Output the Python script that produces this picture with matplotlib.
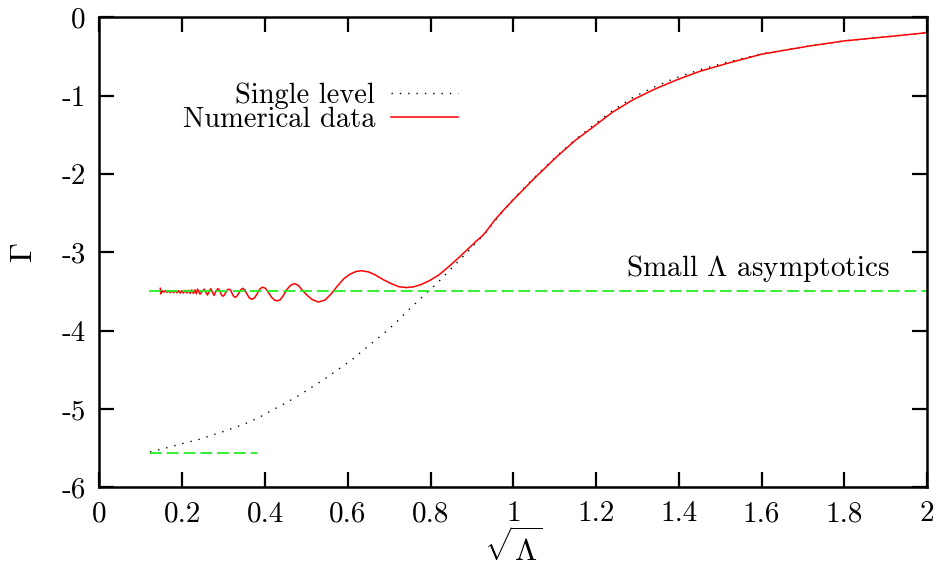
import matplotlib
matplotlib.use("Agg")
import matplotlib.pyplot as plt

plt.rcParams['font.family'] = ['cmr10', 'DejaVu Serif']
plt.rcParams['mathtext.fontset'] = 'cm'
plt.rcParams['axes.unicode_minus'] = False
plt.rcParams['axes.formatter.use_mathtext'] = True

# ---- data ----
single_x = [0.122, 0.160, 0.202, 0.240, 0.275, 0.310, 0.347, 0.385, 0.420, 0.452,
            0.484, 0.517, 0.549, 0.581, 0.613, 0.642, 0.670, 0.695, 0.718, 0.740,
            0.760, 0.788, 0.815, 0.835, 0.855, 0.883, 0.910, 0.935, 0.960, 1.000,
            1.050, 1.105, 1.150, 1.193, 1.240, 1.290, 1.340, 1.394, 1.450, 1.515,
            1.600, 1.716, 1.800, 1.916, 2.000]
single_y = [-5.55, -5.50, -5.44, -5.39, -5.33, -5.27, -5.20, -5.11, -5.01, -4.92,
            -4.82, -4.71, -4.60, -4.48, -4.36, -4.23, -4.11, -4.00, -3.89, -3.77,
            -3.67, -3.53, -3.40, -3.29, -3.18, -3.03, -2.88, -2.74, -2.57, -2.32,
            -2.05, -1.77, -1.56, -1.38, -1.19, -1.02, -0.89, -0.77, -0.67, -0.575,
            -0.465, -0.365, -0.30, -0.24, -0.195]

num_x = [0.147, 0.148, 0.151, 0.155, 0.159, 0.163, 0.167, 0.171, 0.175, 0.179,
         0.183, 0.187, 0.191, 0.195, 0.199, 0.203, 0.207, 0.211, 0.215, 0.219,
         0.223, 0.227, 0.231, 0.234, 0.237, 0.240, 0.243, 0.248, 0.253, 0.257,
         0.261, 0.265, 0.269, 0.273, 0.277, 0.281, 0.286, 0.289, 0.292, 0.295,
         0.298, 0.301, 0.305, 0.309, 0.313, 0.317, 0.320, 0.324, 0.328, 0.332,
         0.337, 0.341, 0.346, 0.351, 0.356, 0.362, 0.368, 0.374, 0.380, 0.387,
         0.394, 0.401, 0.408, 0.416, 0.423, 0.430, 0.437, 0.444, 0.452, 0.462,
         0.472, 0.480, 0.488, 0.500, 0.513, 0.529, 0.545, 0.560, 0.575, 0.590,
         0.605, 0.620, 0.633, 0.650, 0.667, 0.686, 0.705, 0.724, 0.742, 0.760,
         0.778, 0.798, 0.820, 0.847, 0.870, 0.890, 0.910, 0.925, 0.932, 0.945,
         0.955, 0.975, 1.000, 1.050, 1.105, 1.150, 1.193, 1.240, 1.290, 1.340,
         1.394, 1.450, 1.515, 1.600, 1.716, 1.800, 1.916, 2.000]
num_y = [-3.46, -3.53, -3.49, -3.51, -3.49, -3.51, -3.49, -3.515, -3.49, -3.515,
         -3.49, -3.515, -3.49, -3.52, -3.49, -3.52, -3.485, -3.52, -3.485, -3.525,
         -3.48, -3.525, -3.48, -3.53, -3.47, -3.50, -3.535, -3.50, -3.47, -3.51,
         -3.545, -3.50, -3.465, -3.51, -3.55, -3.50, -3.465, -3.475, -3.51, -3.545,
         -3.56, -3.55, -3.515, -3.48, -3.47, -3.485, -3.52, -3.56, -3.575, -3.56,
         -3.52, -3.48, -3.46, -3.48, -3.53, -3.58, -3.60, -3.585, -3.54, -3.47,
         -3.445, -3.46, -3.51, -3.575, -3.61, -3.62, -3.605, -3.555, -3.48, -3.42,
         -3.40, -3.42, -3.47, -3.54, -3.60, -3.635, -3.61, -3.53, -3.43, -3.34,
         -3.28, -3.245, -3.235, -3.25, -3.29, -3.35, -3.40, -3.44, -3.45, -3.44,
         -3.41, -3.36, -3.29, -3.17, -3.06, -2.96, -2.86, -2.79, -2.75, -2.66,
         -2.59, -2.47, -2.33, -2.06, -1.78, -1.57, -1.40, -1.21, -1.05, -0.92,
         -0.80, -0.69, -0.59, -0.47, -0.365, -0.30, -0.24, -0.195]

asym_small_y = -3.5
asym_small_x = [0.12, 2.0]
asym_single_y = -5.56
asym_single_x = [0.122, 0.38]

xticks = [0, 0.2, 0.4, 0.6, 0.8, 1, 1.2, 1.4, 1.6, 1.8, 2]
xticklabels = ["0", "0.2", "0.4", "0.6", "0.8", "1", "1.2", "1.4", "1.6", "1.8", "2"]
yticks = [0, -1, -2, -3, -4, -5, -6]
yticklabels = ["0", "-1", "-2", "-3", "-4", "-5", "-6"]

FS = 21

fig = plt.figure(figsize=(9.36, 5.67), dpi=100)
ax = fig.add_axes([0.1063, 0.1407, 0.8841, 0.8286])

ax.plot(single_x, single_y, color='black', lw=1.0, linestyle=(0, (1, 5)),
        label='Single level')
ax.plot(num_x, num_y, color='#ff0000', lw=1.1, label='Numerical data')
ax.hlines(asym_small_y, asym_small_x[0], asym_small_x[1], colors='#22ee22',
          lw=1.3, linestyles=[(0, (6.5, 2.8))])
ax.hlines(asym_single_y, asym_single_x[0], asym_single_x[1], colors='#22ee22',
          lw=1.3, linestyles=[(0, (6.5, 2.8))])

ax.text(1.91, -3.21, r"Small $\Lambda$ asymptotics", fontsize=FS,
        ha='right', va='center')

ax.set_xlim(0, 2)
ax.set_ylim(-6, 0)
ax.set_xticks(xticks)
ax.set_xticklabels(xticklabels)
ax.set_yticks(yticks)
ax.set_yticklabels(yticklabels)
ax.tick_params(direction='in', length=11, width=1.6, top=True, right=True,
               labelsize=FS, pad=10)
for s in ax.spines.values():
    s.set_linewidth(1.8)

ax.set_ylabel(r"$\Gamma$", fontsize=FS + 2, labelpad=17)
ax.set_xlabel(r"$\sqrt{\Lambda}$", fontsize=FS + 2, labelpad=1)

leg = ax.legend(loc='upper right', bbox_to_anchor=(0.433, 0.862),
                frameon=False, markerfirst=False, fontsize=FS - 0.5,
                handlelength=2.35, handletextpad=0.55, labelspacing=-0.08,
                borderpad=0, borderaxespad=0)

fig.savefig("out.png", dpi=100)
